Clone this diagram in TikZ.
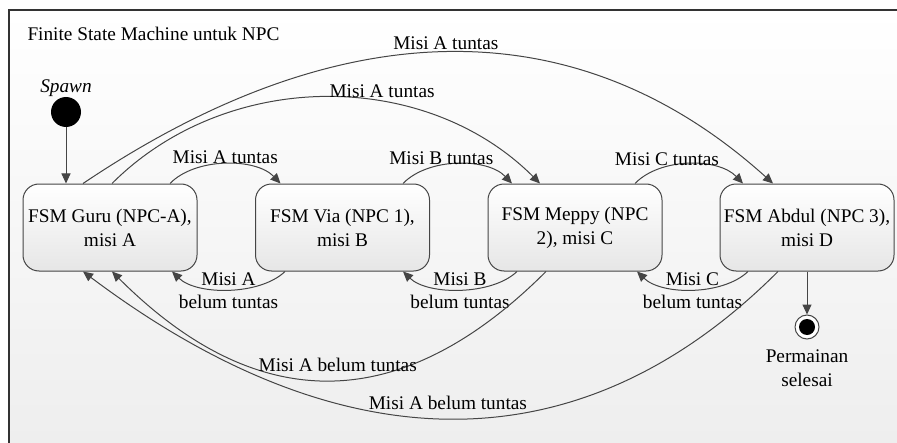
\documentclass[tikz,border=0pt]{standalone}
\usepackage{fontspec}
\setmainfont{Liberation Serif}
\usetikzlibrary{arrows.meta,calc}

\definecolor{linegray}{HTML}{454545}
\definecolor{framegray}{HTML}{333333}
\definecolor{bggray}{HTML}{EEEEEE}
\definecolor{boxgray}{HTML}{E6E6E6}

\begin{document}
\begin{tikzpicture}[x=0.5pt,y=-0.5pt,
        font=\fontsize{9.65}{12}\selectfont,
        line width=0.5pt,
        arrow/.style={draw=linegray,-{Triangle[length=5pt,width=4.5pt]}},
        fsmstate/.style={draw=linegray,rounded corners=8pt,top color=white,bottom color=boxgray,
            minimum width=87pt,minimum height=43.5pt,align=center,inner sep=1pt},
        lbl/.style={align=center,inner sep=0pt,font=\fontsize{9.65}{11.5}\selectfont}]

            % Background frame
            \useasboundingbox (0,0) rectangle (897,443);
            \shade[top color=white,bottom color=bggray] (9,10) rectangle (897,443);
            \draw[framegray,line width=0.8pt] (9,443) -- (9,10) -- (897,10);
            \node[anchor=west,inner sep=0pt] (title) at (27,34) {Finite State Machine untuk NPC};

            % Start and end states
            \node[circle,fill=black,minimum size=15pt,inner sep=0pt] (spawn) at (66,112) {};
            \node[inner sep=0pt] (spawnlbl) at (66,88) {\textit{Spawn}};
            \node[circle,draw=linegray,fill=white,minimum size=12pt,inner sep=0pt] (selesai) at (807,327) {};
            \fill[black] (selesai) circle[radius=4pt];
            \node[lbl,font=\fontsize{9.65}{12}\selectfont] (selesailbl) at (807,368) {Permainan\\selesai};

            % States
            \node[fsmstate] (guru) at (110,227.5) {FSM Guru (NPC-A),\\misi A};
            \node[fsmstate] (via) at (342.5,227.5) {FSM Via (NPC 1),\\misi B};
            \node[fsmstate] (meppy) at (575,227.5) {FSM Meppy (NPC\\2), misi C};
            \node[fsmstate] (abdul) at (807,227.5) {FSM Abdul (NPC 3),\\misi D};

            % Straight transitions
            \draw[arrow] (spawn) -- (spawn |- guru.north);
            \draw[arrow] (abdul.south) -- (selesai);

            % Mission done (forward)
            \draw[arrow] ($(guru.north)+(60,0)$) .. controls +(25,-26) and +(-25,-26) .. ($(via.north)+(-62,0)$)
                node[lbl,above,pos=0.5] {Misi A tuntas};
            \draw[arrow] ($(via.north)+(60.5,0)$) .. controls +(25,-26) and +(-25,-26) .. ($(meppy.north)+(-63,0)$)
                node[lbl,above,pos=0.37] {Misi B tuntas};
            \draw[arrow] ($(meppy.north)+(60,0)$) .. controls +(25,-26) and +(-25,-26) .. ($(abdul.north)+(-64,0)$)
                node[lbl,above,pos=0.32] {Misi C tuntas};
            \draw[arrow] ($(guru.north)+(2,0)$) .. controls +(115,-115) and +(-115,-115) .. ($(meppy.north)+(-35,0)$)
                node[lbl,above=2pt,pos=0.62] {Misi A tuntas};
            \draw[arrow] ($(guru.north)+(-27,0)$) .. controls +(260,-175) and +(-194,-175) .. ($(abdul.north)+(-34,0)$)
                node[lbl,above=1pt,pos=0.49] {Misi A tuntas};

            % Mission not done (back)
            \draw[arrow] ($(via.south)+(-57.5,0)$) .. controls +(-25,24) and +(25,24) .. ($(guru.south)+(62,0)$)
                node[lbl,pos=0.5,yshift=-0.75pt] {Misi A\\belum tuntas};
            \draw[arrow] ($(meppy.south)+(-58,0)$) .. controls +(-25,24) and +(25,24) .. ($(via.south)+(60.5,0)$)
                node[lbl,pos=0.5,yshift=-0.75pt] {Misi B\\belum tuntas};
            \draw[arrow] ($(abdul.south)+(-59,0)$) .. controls +(-25,24) and +(25,24) .. ($(meppy.south)+(62,0)$)
                node[lbl,pos=0.5,yshift=-0.75pt] {Misi C\\belum tuntas};
            \draw[arrow] ($(meppy.south)+(-29,0)$) .. controls +(-145,145) and +(145,145) .. ($(guru.south)+(2,0)$)
                node[lbl,above=4pt,pos=0.48] {Misi A belum tuntas};
            \draw[arrow] ($(abdul.south)+(-29,0)$) .. controls +(-196,196) and +(261,196) .. ($(guru.south)+(-27,0)$)
                node[lbl,above=4pt,pos=0.51] {Misi A belum tuntas};
        \end{tikzpicture}
\end{document}
